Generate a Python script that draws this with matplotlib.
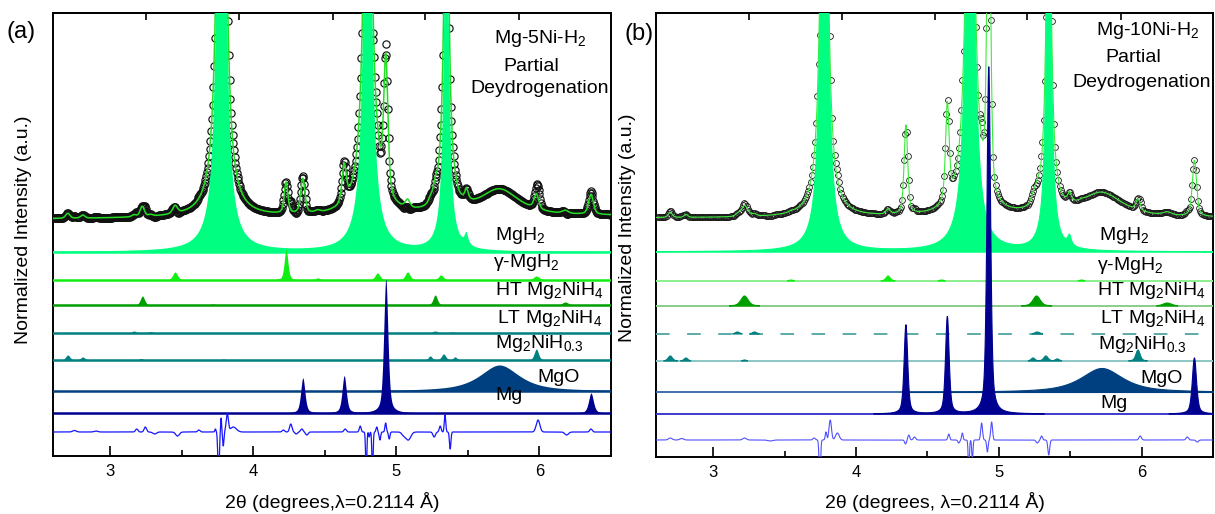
import numpy as np
import matplotlib
matplotlib.use("Agg")
import matplotlib.pyplot as plt

plt.rcParams['font.family'] = ['Liberation Sans', 'DejaVu Sans']
plt.rcParams['mathtext.fontset'] = 'custom'
plt.rcParams['mathtext.rm'] = 'Liberation Sans'
plt.rcParams['mathtext.it'] = 'Liberation Sans:italic'
plt.rcParams['mathtext.bf'] = 'Liberation Sans:bold'

# ---------------- data (peak lists) ----------------
phase_names = ['MgH$_2$', 'γ-MgH$_2$', 'HT Mg$_2$NiH$_4$', 'LT Mg$_2$NiH$_4$',
               'Mg$_2$NiH$_{0.3}$', 'MgO', 'Mg']

# panel (a) Mg-5Ni-H2 : positions (2theta), heights (a.u.), fwhm
a_MgH2_pos = [3.778, 4.800, 5.350, 5.490]
a_MgH2_h = [950, 550, 400, 12]
a_MgH2_w = [0.046, 0.056, 0.038, 0.030]
a_gMgH2_pos = [3.453, 4.229, 4.450, 4.868, 5.078, 5.311, 5.978]
a_gMgH2_h = [8, 31, 2, 7, 8, 5, 4]
a_gMgH2_w = [0.040, 0.030, 0.040, 0.040, 0.040, 0.040, 0.050]
a_HT_pos = [3.225, 3.717, 5.271, 6.180]
a_HT_h = [9, 1, 10, 3]
a_HT_w = [0.035, 0.040, 0.035, 0.050]
a_LT_pos = [3.166, 3.283, 5.270, 5.390]
a_LT_h = [2, 1.5, 2, 1]
a_LT_w = [0.035, 0.035, 0.040, 0.040]
a_M03_pos = [2.703, 2.808, 3.215, 3.790, 4.930, 5.236, 5.330, 5.410, 5.978]
a_M03_h = [5, 3, 1.5, 1, 1.5, 4, 6, 3, 11]
a_M03_w = [0.035, 0.035, 0.030, 0.030, 0.030, 0.030, 0.035, 0.030, 0.035]
a_MgO_pos = [5.720]
a_MgO_h = [26]
a_MgO_w = [0.33]
a_Mg_pos = [4.346, 4.635, 4.926, 6.360]
a_Mg_h = [35, 37, 134, 20]
a_Mg_w = [0.035, 0.035, 0.035, 0.040]
a_bg = [237, 240]
a_diff_pos = [2.75, 2.90, 3.185, 3.245, 3.310, 3.470, 3.620, 3.735, 3.757, 3.775, 3.790, 3.818, 3.860,
              4.210, 4.262, 4.300, 4.339, 4.374, 4.642, 4.747, 4.789, 4.810, 4.833, 4.863, 4.885,
              4.925, 4.950, 5.050, 5.083, 5.264, 5.306, 5.340, 5.376, 5.990, 6.190, 6.360]
a_diff_amp = [1.5, 1, 3, 5, -2, -4, 2, 3, -45, 14, -14, 18, 5,
              2, 8, -2, 3, -3, 3, 6, -40, -5, -40, 5, -8,
              9, -7, -3, -8, -5, 6, 17, -17, 12, -3, 3]
a_diff_w = [0.03, 0.03, 0.02, 0.02, 0.03, 0.03, 0.02, 0.010, 0.012, 0.008, 0.010, 0.018, 0.05,
            0.02, 0.02, 0.02, 0.02, 0.02, 0.02, 0.015, 0.010, 0.008, 0.010, 0.012, 0.012,
            0.012, 0.012, 0.03, 0.04, 0.02, 0.015, 0.012, 0.012, 0.03, 0.03, 0.02]

# panel (b) Mg-10Ni-H2
b_MgH2_pos = [3.778, 4.800, 5.350, 5.495]
b_MgH2_h = [650, 600, 400, 10]
b_MgH2_w = [0.046, 0.056, 0.038, 0.030]
b_gMgH2_pos = [3.545, 4.225, 4.600, 5.580]
b_gMgH2_h = [1, 5, 1, 1]
b_gMgH2_w = [0.035, 0.035, 0.035, 0.035]
b_HT_pos = [3.220, 5.265, 6.180]
b_HT_h = [10, 10, 3]
b_HT_w = [0.060, 0.060, 0.070]
b_LT_pos = [3.170, 3.290, 5.270]
b_LT_h = [2, 2, 2]
b_LT_w = [0.035, 0.035, 0.040]
b_M03_pos = [2.700, 2.810, 3.220, 5.240, 5.330, 5.410, 5.975]
b_M03_h = [5, 3, 1, 3, 5, 2, 11]
b_M03_w = [0.035, 0.030, 0.030, 0.030, 0.035, 0.030, 0.035]
b_MgO_pos = [5.720]
b_MgO_h = [24]
b_MgO_w = [0.35]
b_Mg_pos = [4.350, 4.640, 4.930, 6.370]
b_Mg_h = [89, 97, 347, 56]
b_Mg_w = [0.030, 0.030, 0.030, 0.035]
b_bg = [239, 239]
b_diff_pos = [2.70, 2.78, 3.22, 3.40, 3.707, 3.747, 3.790, 3.820, 3.870, 4.347, 4.370, 4.410,
              4.650, 4.720, 4.745, 4.790, 4.815, 4.880, 4.920, 4.950, 5.270, 5.300, 5.350,
              5.990, 6.320, 6.390]
b_diff_amp = [2, 1.5, 2, -1, 2, -40, 8, 20, 7, -4, 5, 3,
              6, -3, 7, -30, -20, 17, -12, 18, -3, 4, -15,
              4, 3, -2]
b_diff_w = [0.03, 0.03, 0.03, 0.04, 0.02, 0.012, 0.012, 0.02, 0.03, 0.015, 0.015, 0.02,
            0.015, 0.015, 0.012, 0.010, 0.010, 0.015, 0.012, 0.015, 0.02, 0.015, 0.015,
            0.02, 0.02, 0.02]

# ---------------- style / layout ----------------
eta_phase = [1.0, 0.5, 0.4, 0.4, 0.4, 0.8, 0.5]
col_fill = ['#00FF80', '#11EE11', '#009F00', '#008080', '#008080', '#004080', '#000090']
col_line_b = ['#8FFFC4', '#8CF08C', '#8CCC8C', '#5AAAAA', '#8CC6C6', '#3F6FA8', '#3C3CCC']
a_off = [204, 176, 151, 123, 96, 65, 43]
b_off = [205, 176, 151, 123, 96, 65, 43]
a_diff_off, b_diff_off = 24, 17
XMIN, XMAX = 2.6, 6.5


def pv(x, pos, h, w, eta):
    y = np.zeros_like(x)
    for p, hh, ww in zip(pos, h, w):
        z = (x - p) / ww
        y += hh * (eta / (1 + 4 * z ** 2) + (1 - eta) * np.exp(-4 * np.log(2) * z ** 2))
    return y


a_phases = [(a_MgH2_pos, a_MgH2_h, a_MgH2_w), (a_gMgH2_pos, a_gMgH2_h, a_gMgH2_w),
            (a_HT_pos, a_HT_h, a_HT_w), (a_LT_pos, a_LT_h, a_LT_w),
            (a_M03_pos, a_M03_h, a_M03_w), (a_MgO_pos, a_MgO_h, a_MgO_w),
            (a_Mg_pos, a_Mg_h, a_Mg_w)]
b_phases = [(b_MgH2_pos, b_MgH2_h, b_MgH2_w), (b_gMgH2_pos, b_gMgH2_h, b_gMgH2_w),
            (b_HT_pos, b_HT_h, b_HT_w), (b_LT_pos, b_LT_h, b_LT_w),
            (b_M03_pos, b_M03_h, b_M03_w), (b_MgO_pos, b_MgO_h, b_MgO_w),
            (b_Mg_pos, b_Mg_h, b_Mg_w)]

W, H = 1215, 514
fig = plt.figure(figsize=(W / 100, H / 100), dpi=100)


def px_axes(l, t, r, b):
    return fig.add_axes([l / W, 1 - b / H, (r - l) / W, (b - t) / H])


def calc(x, phases, bg):
    y = bg[0] + (bg[1] - bg[0]) * (x - XMIN) / (XMAX - XMIN)
    for (p, h, w), eta in zip(phases, eta_phase):
        y = y + pv(x, p, h, w, eta)
    return y


def draw_panel(ax, phases, offs, bg, dpos, damp, dw, doff, panel_b, height):
    xf = np.arange(XMIN, XMAX + 0.0005, 0.0005)
    step = 0.008 if panel_b else 0.005
    xo = np.arange(XMIN + 0.01, XMAX, step)
    cf = calc(xf, phases, bg)
    diff_f = pv(xf, dpos, damp, dw, 0.0)
    obs = calc(xo, phases, bg) + pv(xo, dpos, damp, dw, 0.0)
    if panel_b:
        ax.plot(xo, obs, 'o', mfc='none', mec='#1a1a1a', ms=4.2, mew=0.6, zorder=3)
        ax.plot(xf, cf, color='#3CEB3C', lw=0.8, zorder=4)
    else:
        ax.plot(xo, obs, 'o', mfc='none', mec='#111111', ms=5.2, mew=0.85, zorder=3)
        ax.plot(xf, cf, color='#22DD22', lw=1.1, zorder=4)
    for i, ((p, h, w), eta, off) in enumerate(zip(phases, eta_phase, offs)):
        prof = pv(xf, p, h, w, eta)
        z = 5 + i * 0.1
        if panel_b:
            ls = (0, (7, 9)) if i == 3 else '-'
            ax.plot([XMIN, XMAX], [off, off], color=col_line_b[i], lw=1.4, ls=ls, zorder=z)
            m = prof > 0.3
            ax.fill_between(xf, off, off + prof, where=m, color=col_fill[i], lw=0.8,
                            edgecolor=col_fill[i], zorder=z + 0.05)
        else:
            ax.fill_between(xf, off, off + prof, color=col_fill[i], lw=0, zorder=z)
            ax.plot([XMIN, XMAX], [off, off], color=col_fill[i], lw=1.8, zorder=z + 0.05)
    ax.plot(xf, doff + diff_f, color='#5050FF' if panel_b else '#1515FF',
            lw=0.8 if panel_b else 0.9, zorder=6)
    ax.set_xlim(XMIN, XMAX)
    ax.set_ylim(0, height)
    ax.set_yticks([])
    ax.set_xticks([3, 4, 5, 6])
    ax.set_xticks([3.5, 4.5, 5.5], minor=True)
    ax.tick_params(axis='x', which='major', direction='in', length=7, width=1.2,
                   labelsize=12, pad=6)
    ax.tick_params(axis='x', which='minor', direction='in', length=4, width=1.2)
    for s in ax.spines.values():
        s.set_linewidth(1.4)
    top = ax.secondary_xaxis('top')
    top.set_xticks([3.25, 3.90, 4.555, 5.20, 5.855])
    top.tick_params(direction='in', length=5, width=1.2, labeltop=False)
    top.spines['top'].set_linewidth(1.4)


ax_a = px_axes(53, 13, 611, 456)
draw_panel(ax_a, a_phases, a_off, a_bg, a_diff_pos, a_diff_amp, a_diff_w, a_diff_off, False, 443)
ax_b = px_axes(656, 13, 1213, 457)
draw_panel(ax_b, b_phases, b_off, b_bg, b_diff_pos, b_diff_amp, b_diff_w, b_diff_off, True, 444)


def ftext(x, y, s, **kw):
    kw.setdefault('fontsize', 14)
    kw.setdefault('va', 'baseline')
    fig.text(x / W, 1 - y / H, s, zorder=20, **kw)


a_lab = [(495, 240), (493, 267), (495, 295), (497, 323), (495, 348), (537, 382), (495, 400)]
b_lab = [(1099, 240), (1097, 270), (1097, 295), (1100, 323), (1098, 349), (1140, 383), (1100, 408)]
for (x, y), s in zip(a_lab, phase_names):
    ftext(x, y, s)
for (x, y), s in zip(b_lab, phase_names):
    ftext(x, y, s)

ftext(540, 43, 'Mg-5Ni-H$_2$', ha='center')
ftext(531, 71, 'Partial', ha='center')
ftext(540, 93, 'Deydrogenation', ha='center')
ftext(1148, 35, 'Mg-10Ni-H$_2$', ha='center')
ftext(1133, 62, 'Partial', ha='center')
ftext(1142, 87, 'Deydrogenation', ha='center')

ftext(21, 32, '(a)', ha='center', va='center', fontsize=17)
ftext(639, 34, '(b)', ha='center', va='center', fontsize=17)

ftext(24, 230, 'Normalized Intensity (a.u.)', ha='center', va='center', rotation=90)
ftext(628, 228, 'Normalized Intensity (a.u.)', ha='center', va='center', rotation=90)
ftext(332, 502, '2θ (degrees,λ=0.2114 Å)', ha='center', va='center')
ftext(935, 502, '2θ (degrees, λ=0.2114 Å)', ha='center', va='center')

fig.savefig('out.png', dpi=100)
